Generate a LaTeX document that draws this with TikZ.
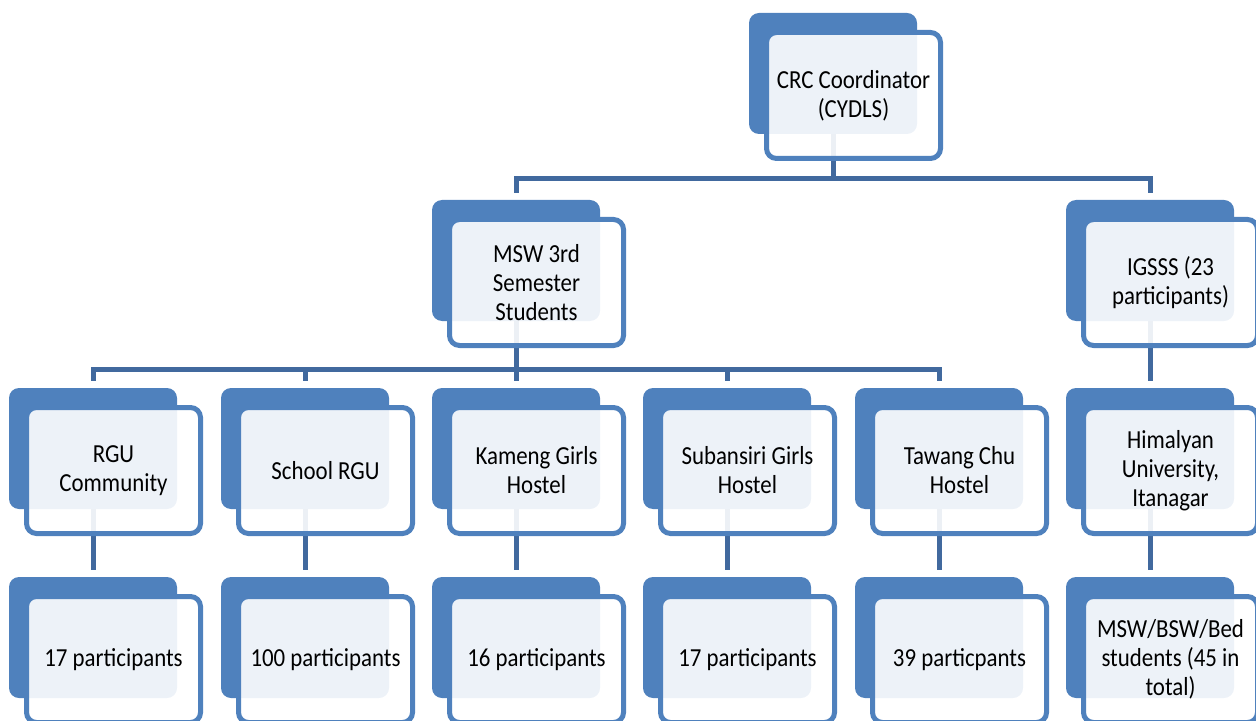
\documentclass[tikz,border=0pt]{standalone}
\usepackage{fontspec}
\setmainfont{Carlito}[FakeStretch=0.88]
\usepackage{xcolor}
\usetikzlibrary{
	positioning,
	calc
}
\definecolor{boxblue}{HTML}{4F81BD}
\definecolor{lineblue}{HTML}{41699E}
\pgfdeclarelayer{background}
\pgfsetlayers{background,main}

\begin{document}
\begin{tikzpicture}[x=0.5pt,y=-0.5pt,
		back/.style={fill=boxblue, rounded corners=5pt, inner sep=0pt,
			minimum width=84pt, minimum height=60.5pt},
		front/.style={draw=boxblue, line width=2.5pt, rounded corners=5pt,
			fill=white, fill opacity=0.9, text opacity=1, inner sep=0pt,
			minimum width=87pt, minimum height=63pt, align=center,
			font=\fontsize{13}{14.5}\selectfont},
		conn/.style={draw=lineblue, line width=2.5pt, shorten >=3.5pt}]
	
	% Frame
	\useasboundingbox (0,0) rectangle (1256,721);
	\clip (0,0) rectangle (1256,721);
	
	% Top
	\node[back] (crcb) at (833,73.5) {};
	\node[front] (crc) at ([shift={(20.5,22)}]crcb.center)
	{CRC Coordinator\\(CYDLS)};
	
	% Second level
	\node[back] (mswb) at (516,260.5) {};
	\node[front] (msw) at ([shift={(20.5,22)}]mswb.center)
	{MSW 3rd\\Semester\\Students};
	\node[back] (igsssb) at (1150,260.5) {};
	\node[front] (igsss) at ([shift={(20.5,22)}]igsssb.center)
	{IGSSS (23\\participants)};
	
	% Third level
	\node[back] (rgub) at (93,448.5) {};
	\node[front] (rgu) at ([shift={(20.5,22)}]rgub.center)
	{RGU\\Community};
	\node[back] (schoolb) at (305,448.5) {};
	\node[front] (school) at ([shift={(20.5,22)}]schoolb.center)
	{School RGU};
	\node[back] (kamengb) at (516,448.5) {};
	\node[front] (kameng) at ([shift={(20.5,22)}]kamengb.center)
	{Kameng Girls\\Hostel};
	\node[back] (subansirib) at (727,448.5) {};
	\node[front] (subansiri) at ([shift={(20.5,22)}]subansirib.center)
	{Subansiri Girls\\Hostel};
	\node[back] (tawangb) at (939,448.5) {};
	\node[front] (tawang) at ([shift={(20.5,22)}]tawangb.center)
	{Tawang Chu\\Hostel};
	\node[back] (himb) at (1150,448.5) {};
	\node[front] (him) at ([shift={(20.5,22)}]himb.center)
	{Himalyan\\University,\\Itanagar};
	
	% Participant counts
	\node[back] (rgucntb) at (93,637.5) {};
	\node[front] (rgucnt) at ([shift={(20.5,22)}]rgucntb.center)
	{17 participants};
	\node[back] (schoolcntb) at (305,637.5) {};
	\node[front] (schoolcnt) at ([shift={(20.5,22)}]schoolcntb.center)
	{100 participants};
	\node[back] (kamengcntb) at (516,637.5) {};
	\node[front] (kamengcnt) at ([shift={(20.5,22)}]kamengcntb.center)
	{16 participants};
	\node[back] (subansiricntb) at (727,637.5) {};
	\node[front] (subansiricnt) at ([shift={(20.5,22)}]subansiricntb.center)
	{17 participants};
	\node[back] (tawangcntb) at (939,637.5) {};
	\node[front] (tawangcnt) at ([shift={(20.5,22)}]tawangcntb.center)
	{39 particpants};
	\node[back] (himcntb) at (1150,637.5) {};
	\node[front] (himcnt) at ([shift={(20.5,22)}]himcntb.center)
	{MSW/BSW/Bed\\students (45 in\\total)};
	
	% Connectors
	\coordinate (bar1) at (0,179);
	\coordinate (bar2) at (0,369);
	\begin{pgfonlayer}{background}
		\draw[conn] (crcb.south) -- (crcb.south |- bar1) -| (mswb.north);
		\draw[conn] (crcb.south) -- (crcb.south |- bar1) -| (igsssb.north);
		\draw[conn] (mswb.south) -- (mswb.south |- bar2) -| (rgub.north);
		\draw[conn] (mswb.south) -- (mswb.south |- bar2) -| (schoolb.north);
		\draw[conn] (mswb.south) -- (kamengb.north);
		\draw[conn] (mswb.south) -- (mswb.south |- bar2) -| (subansirib.north);
		\draw[conn] (mswb.south) -- (mswb.south |- bar2) -| (tawangb.north);
		\draw[conn] (igsssb.south) -- (himb.north);
		\draw[conn] (rgub.south) -- (rgucntb.north);
		\draw[conn] (schoolb.south) -- (schoolcntb.north);
		\draw[conn] (kamengb.south) -- (kamengcntb.north);
		\draw[conn] (subansirib.south) -- (subansiricntb.north);
		\draw[conn] (tawangb.south) -- (tawangcntb.north);
		\draw[conn] (himb.south) -- (himcntb.north);
	\end{pgfonlayer}
	
\end{tikzpicture}
\end{document}
